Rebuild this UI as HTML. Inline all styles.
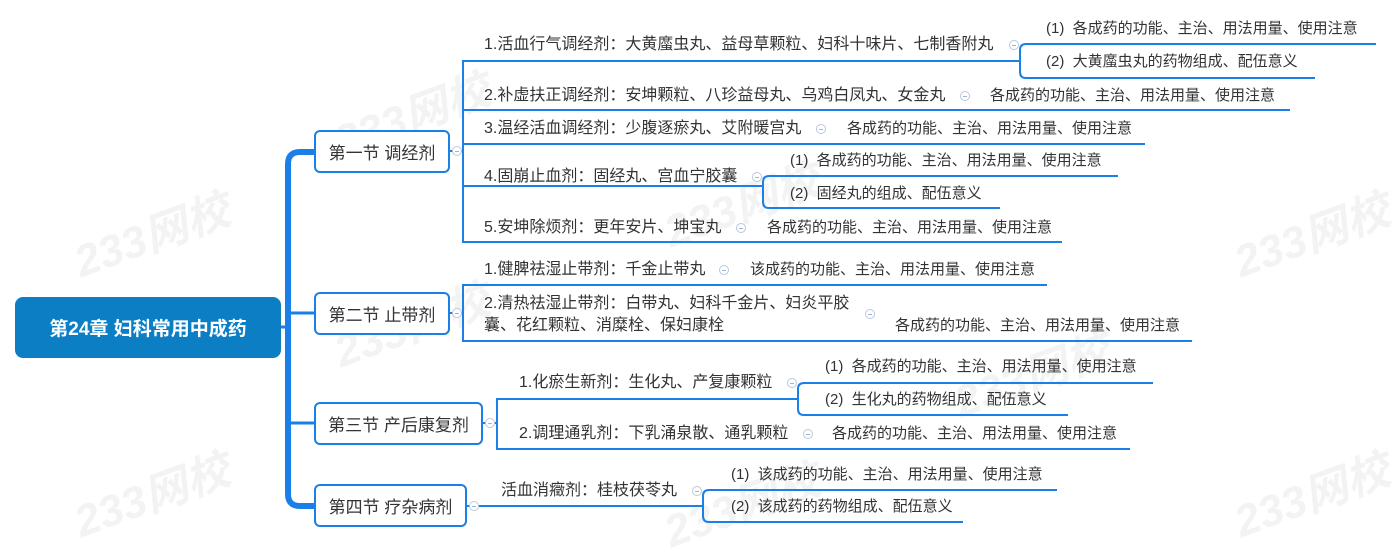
<!DOCTYPE html>
<html><head><meta charset="utf-8"><style>
body{margin:0;width:1392px;height:543px;background:#fff;position:relative;overflow:hidden;font-family:"Liberation Sans","Noto Sans CJK SC",sans-serif;}
.t{position:absolute;font-size:15px;color:#333;white-space:nowrap;line-height:20px;transform:translateY(-10px);}
.i{font-size:16px;}
.box{position:absolute;border:2px solid #1a7fe6;border-radius:6px;background:#fff;box-sizing:border-box;font-size:17px;color:#333;display:flex;align-items:center;justify-content:center;white-space:nowrap;}
.root{position:absolute;left:15px;top:297px;width:266px;height:61px;background:#0b7ec4;border-radius:8px;color:#fff;font-weight:bold;font-size:19px;display:flex;align-items:center;justify-content:center;}
.c{position:absolute;width:8px;height:8px;border:1px solid #b9c8de;border-radius:50%;background:#fff;transform:translate(-5px,-5px);}
.c:after{content:"";position:absolute;left:2px;top:4px;width:4px;height:1px;background:#9fb2cf;}
.wm{position:absolute;font-size:44px;font-weight:bold;font-style:italic;color:#f3f3f3;transform:rotate(-20deg);white-space:nowrap;}
</style></head><body>
<div class="wm" style="left:330px;top:80px">233网校</div>
<div class="wm" style="left:70px;top:200px">233网校</div>
<div class="wm" style="left:660px;top:170px">233网校</div>
<div class="wm" style="left:1230px;top:200px">233网校</div>
<div class="wm" style="left:330px;top:290px">233网校</div>
<div class="wm" style="left:950px;top:340px">233网校</div>
<div class="wm" style="left:70px;top:460px">233网校</div>
<div class="wm" style="left:660px;top:470px">233网校</div>
<div class="wm" style="left:1230px;top:460px">233网校</div>
<svg width="1392" height="543" style="position:absolute;left:0;top:0" fill="none">
<g stroke="#1a7fe6" stroke-width="6">
<path d="M314,152 H300 Q288,152 288,164 V494 Q288,506 300,506 H314"/>
</g>
<g stroke="#1a7fe6" stroke-width="3">
<path d="M288,313 H314 M288,423 H314 M281,327 H288"/>
</g>
<g stroke="#1a7fe6" stroke-width="2">
<path d="M450,151 H463 M463,60 V243"/>
<path d="M463,61 H1020 M463,110 H1290 M463,144 H1145 M463,186 H763 M463,242 H1062"/>
<path d="M1376,44 H1026 Q1020,44 1020,50 V72 Q1020,78 1026,78 H1315"/>
<path d="M1118,176 H769 Q763,176 763,182 V202 Q763,208 769,208 H1000"/>
<path d="M450,313 H463 M463,284 V342 M463,285 H1047 M463,341 H1192"/>
<path d="M483,423 H497 M497,398 V450 M497,399 H798 M497,449 H1130"/>
<path d="M1153,383 H804 Q798,383 798,389 V409 Q798,415 804,415 H1068"/>
<path d="M467,506 H703"/>
<path d="M1057,490 H709 Q703,490 703,496 V516 Q703,522 709,522 H963"/>
</g>
</svg>
<div class="root">第24章 妇科常用中成药</div>
<div class="box" style="left:314px;top:130px;width:136px;height:43px">第一节 调经剂</div>
<div class="box" style="left:314px;top:292px;width:136px;height:43px">第二节 止带剂</div>
<div class="box" style="left:314px;top:402px;width:169px;height:43px">第三节 产后康复剂</div>
<div class="box" style="left:314px;top:484px;width:153px;height:43px">第四节 疗杂病剂</div>
<div class="c" style="left:457px;top:151px"></div>
<div class="c" style="left:457px;top:313px"></div>
<div class="c" style="left:490px;top:423px"></div>
<div class="c" style="left:474px;top:506px"></div>

<div class="t i" style="left:484px;top:45px">1.活血行气调经剂：大黄䗪虫丸、益母草颗粒、妇科十味片、七制香附丸</div>
<div class="c" style="left:1014px;top:45px"></div>
<div class="t" style="left:1046px;top:29px">(1)&nbsp; 各成药的功能、主治、用法用量、使用注意</div>
<div class="t" style="left:1046px;top:62px">(2)&nbsp; 大黄䗪虫丸的药物组成、配伍意义</div>
<div class="t i" style="left:484px;top:96px">2.补虚扶正调经剂：安坤颗粒、八珍益母丸、乌鸡白凤丸、女金丸</div>
<div class="c" style="left:965px;top:96px"></div>
<div class="t" style="left:990px;top:96px">各成药的功能、主治、用法用量、使用注意</div>
<div class="t i" style="left:484px;top:129px">3.温经活血调经剂：少腹逐瘀丸、艾附暖宫丸</div>
<div class="c" style="left:821px;top:129px"></div>
<div class="t" style="left:847px;top:129px">各成药的功能、主治、用法用量、使用注意</div>
<div class="t i" style="left:484px;top:177px">4.固崩止血剂：固经丸、宫血宁胶囊</div>
<div class="c" style="left:757px;top:177px"></div>
<div class="t" style="left:790px;top:161px">(1)&nbsp; 各成药的功能、主治、用法用量、使用注意</div>
<div class="t" style="left:790px;top:194px">(2)&nbsp; 固经丸的组成、配伍意义</div>
<div class="t i" style="left:484px;top:228px">5.安坤除烦剂：更年安片、坤宝丸</div>
<div class="c" style="left:741px;top:228px"></div>
<div class="t" style="left:767px;top:228px">各成药的功能、主治、用法用量、使用注意</div>

<div class="t i" style="left:484px;top:270px">1.健脾祛湿止带剂：千金止带丸</div>
<div class="c" style="left:724px;top:270px"></div>
<div class="t" style="left:750px;top:270px">该成药的功能、主治、用法用量、使用注意</div>
<div class="t i" style="left:484px;top:304px">2.清热祛湿止带剂：白带丸、妇科千金片、妇炎平胶</div>
<div class="t i" style="left:484px;top:326px">囊、花红颗粒、消糜栓、保妇康栓</div>
<div class="c" style="left:870px;top:314px"></div>
<div class="t" style="left:895px;top:326px">各成药的功能、主治、用法用量、使用注意</div>

<div class="t i" style="left:519px;top:383px">1.化瘀生新剂：生化丸、产复康颗粒</div>
<div class="c" style="left:792px;top:383px"></div>
<div class="t" style="left:825px;top:367px">(1)&nbsp; 各成药的功能、主治、用法用量、使用注意</div>
<div class="t" style="left:825px;top:400px">(2)&nbsp; 生化丸的药物组成、配伍意义</div>
<div class="t i" style="left:519px;top:434px">2.调理通乳剂：下乳涌泉散、通乳颗粒</div>
<div class="c" style="left:808px;top:434px"></div>
<div class="t" style="left:832px;top:434px">各成药的功能、主治、用法用量、使用注意</div>

<div class="t i" style="left:501px;top:491px">活血消癥剂：桂枝茯苓丸</div>
<div class="c" style="left:697px;top:491px"></div>
<div class="t" style="left:731px;top:475px">(1)&nbsp; 该成药的功能、主治、用法用量、使用注意</div>
<div class="t" style="left:731px;top:507px">(2)&nbsp; 该成药的药物组成、配伍意义</div>
</body></html>
